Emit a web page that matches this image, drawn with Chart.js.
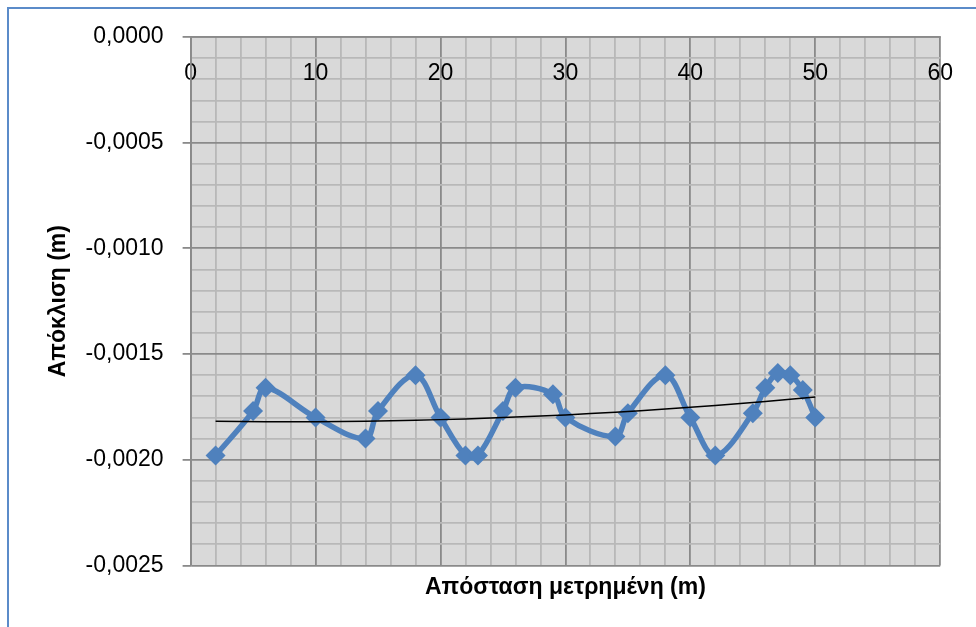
<!DOCTYPE html>
<html>
<head>
<meta charset="utf-8">
<script src="https://cdn.jsdelivr.net/npm/chart.js@4/dist/chart.umd.min.js"></script>
<style>
  html, body { margin: 0; padding: 0; background: #ffffff; width: 976px; height: 627px; overflow: hidden; }
  #frame { position: absolute; left: 7px; top: 7px; width: 1200px; height: 900px;
           border-top: 2px solid #5b8bc9; border-left: 2px solid #5b8bc9; }
  #c { position: absolute; left: 0; top: 0; }
</style>
</head>
<body>
<div id="frame"></div>
<canvas id="c" width="976" height="627"></canvas>
<script>
// ---- data ----
const distances = [2, 5, 6, 10, 14, 15, 18, 20, 22, 23, 25, 26, 29, 30, 34, 35, 38, 40, 42, 45, 46, 47, 48, 49, 50];
const deviations = [-0.00198, -0.00177, -0.00166, -0.00180, -0.00190, -0.00177, -0.00160, -0.00180, -0.00198, -0.00198,
                    -0.00177, -0.00166, -0.00169, -0.00180, -0.00189, -0.00178, -0.00160, -0.00180, -0.00198, -0.00178,
                    -0.00166, -0.00159, -0.00160, -0.00167, -0.00180];
const trendX = [2, 6, 10, 14, 18, 22, 26, 30, 34, 38, 42, 46, 50];
const trendY = [-0.001818, -0.001820, -0.001820, -0.001818, -0.001813, -0.001807, -0.001798, -0.001788, -0.001775,
                -0.001760, -0.001743, -0.001724, -0.001703];
const xTickLabels = ['0', '10', '20', '30', '40', '50', '60'];
const yTickLabels = ['0,0000', '-0,0005', '-0,0010', '-0,0015', '-0,0020', '-0,0025'];
const xTitle = 'Απόσταση μετρημένη (m)';
const yTitle = 'Απόκλιση (m)';

const FONT = "'Liberation Sans', Arial, sans-serif";
const MAJOR = '#8a8a8a';
const MINOR = '#b8b8b8';

function isMajorY(v) { const r = Math.round(v / 0.0005); return Math.abs(r * 0.0005 - v) < 1e-9; }
function yLabel(v) { const r = Math.round(-v / 0.0005); return isMajorY(v) ? (yTickLabels[r] ?? '') : ''; }
function isMajorX(v) { return Math.abs(v % 10) < 1e-9; }
function xLabel(v) { return isMajorX(v) ? (xTickLabels[Math.round(v / 10)] ?? '') : ''; }

const bgPlugin = {
  id: 'bg',
  beforeDraw(chart) {
    const {ctx, chartArea: a} = chart;
    ctx.save();
    ctx.fillStyle = '#d9d9d9';
    ctx.fillRect(a.left, a.top, a.right - a.left, a.bottom - a.top);
    ctx.restore();
  }
};

new Chart(document.getElementById('c'), {
  type: 'line',
  data: {
    datasets: [
      {
        label: 'trend',
        data: trendX.map((x, i) => ({x, y: trendY[i]})),
        borderColor: '#000000',
        borderWidth: 1.5,
        pointRadius: 0,
        tension: 0.4,
        order: 0
      },
      {
        label: 'Απόκλιση',
        data: distances.map((x, i) => ({x, y: deviations[i]})),
        borderColor: '#4f81bd',
        backgroundColor: '#4f81bd',
        borderWidth: 5.5,
        pointStyle: 'rectRot',
        pointRadius: 10,
        pointBorderWidth: 0,
        tension: 0.35,
        order: 1
      }
    ]
  },
  options: {
    responsive: false,
    animation: false,
    layout: { padding: { left: 55, right: 34, top: 37, bottom: 26 } },
    plugins: {
      legend: { display: false },
      tooltip: { enabled: false },
      title: {
        display: true,
        fullSize: false,
        text: xTitle,
        position: 'bottom',
        color: '#000000',
        font: { family: FONT, size: 23, weight: 'bold' },
        padding: { top: 8, bottom: 0 }
      }
    },
    scales: {
      x: {
        type: 'linear',
        position: { y: 0 },
        min: 0, max: 60,
        ticks: {
          stepSize: 2, autoSkip: false, maxRotation: 0,
          color: '#000000', font: { family: FONT, size: 23 }, padding: 23,
          callback: (v) => xLabel(v)
        },
        grid: {
          drawTicks: false,
          lineWidth: 1.8,
          color: (ctx) => (ctx.tick && isMajorX(ctx.tick.value)) ? MAJOR : MINOR
        },
        border: { display: true, color: MAJOR, width: 1.8 },
        title: { display: false }
      },
      y: {
        type: 'linear',
        position: 'left',
        min: -0.0025, max: 0,
        ticks: {
          stepSize: 0.0001, autoSkip: false, maxTicksLimit: 100,
          color: '#000000', font: { family: FONT, size: 23 }, padding: 19,
          callback: (v) => yLabel(v)
        },
        grid: {
          tickLength: 8,
          lineWidth: 1.8,
          color: (ctx) => (ctx.tick && isMajorY(ctx.tick.value)) ? MAJOR : MINOR,
          tickColor: (ctx) => (ctx.tick && isMajorY(ctx.tick.value)) ? MAJOR : 'rgba(0,0,0,0)'
        },
        border: { display: true, color: MAJOR, width: 1.8 },
        title: {
          display: true, text: yTitle, color: '#000000',
          font: { family: FONT, size: 23, weight: 'bold' },
          padding: { top: -10, bottom: -6 }
        }
      }
    }
  },
  plugins: [bgPlugin]
});
</script>
</body>
</html>
